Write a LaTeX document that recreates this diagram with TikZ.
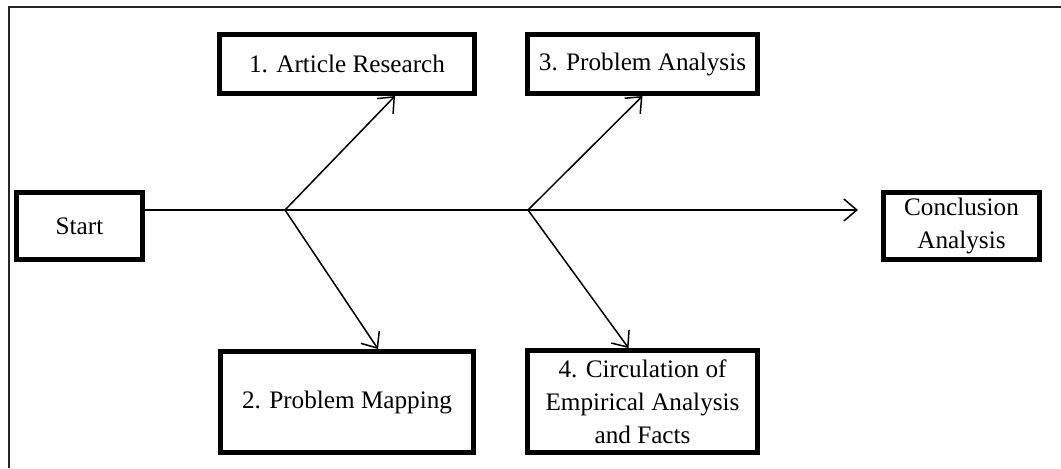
\documentclass[tikz,border=0pt]{standalone}
\usepackage{fontspec}
\setmainfont{Liberation Serif}
\usepackage{tikz}
\usetikzlibrary{arrows.meta}

\begin{document}
\begin{tikzpicture}[x=0.5pt,y=-0.5pt,font=\fontsize{12.6}{16.4}\selectfont,
  box/.style={draw,line width=2.5pt,align=center,inner sep=0pt},
  arr/.style={line width=0.75pt,-{Straight Barb[length=6.5pt,width=11pt]}}]
  \useasboundingbox (0,0) rectangle (1061,468);
  % frame of the page
  \draw[line width=1pt,black!85] (9,468) -- (9,7) -- (1061,7);
  \node[box,minimum width=63pt,minimum height=33.5pt] (start) at (79.5,226) {Start};
  \node[box,minimum width=127.5pt,minimum height=29.5pt] (r1) at (347,64) {1. Article Research};
  \node[box,minimum width=126.5pt,minimum height=50.5pt] (r2) at (347,402) {2. Problem Mapping};
  \node[box,minimum width=115pt,minimum height=29.5pt] (r3) at (642.5,64) {3. Problem Analysis};
  \node[box,minimum width=115pt,minimum height=51pt] (r4) at (642.5,401.5) {4. Circulation of\\Empirical Analysis\\and Facts};
  \node[box,minimum width=78pt,minimum height=33.5pt] (concl) at (961.5,226) {Conclusion\\Analysis};
  \coordinate (a) at (285,210);
  \coordinate (b) at (528,210);
  \coordinate (tip) at (858,210);
  \draw[arr] (start.east |- a) -- (tip);
  \draw[arr] (a) -- ([xshift=24pt]r1.south);
  \draw[arr] (a) -- ([xshift=15.5pt]r2.north);
  \draw[arr] (b) -- (r3.south);
  \draw[arr] (b) -- ([xshift=-7pt]r4.north);
\end{tikzpicture}
\end{document}
